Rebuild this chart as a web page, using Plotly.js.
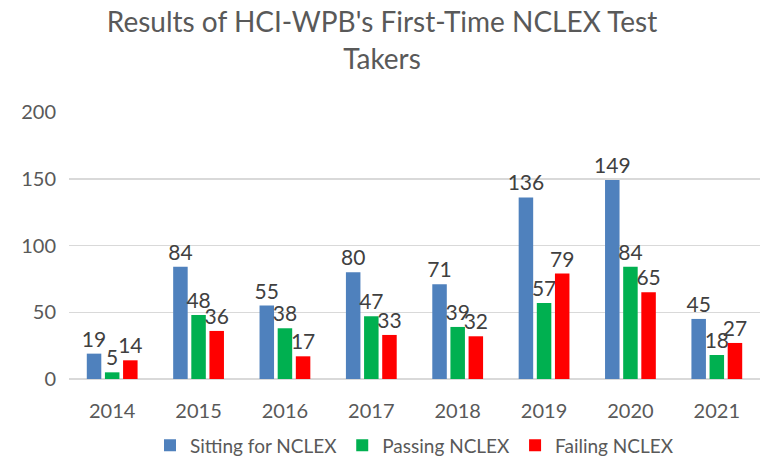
<!DOCTYPE html>
<html>
<head>
<meta charset="utf-8">
<script src="https://cdn.plot.ly/plotly-3.0.1.min.js"></script>
<style>
  html, body { margin: 0; padding: 0; background: #fff; }
  #chart { width: 764px; height: 464px; }
</style>
</head>
<body>
<div id="chart"></div>
<script>
var years = ["2014", "2015", "2016", "2017", "2018", "2019", "2020", "2021"];
var sitting = [19, 84, 55, 80, 71, 136, 149, 45];
var passing = [5, 48, 38, 47, 39, 57, 84, 18];
var failing = [14, 36, 17, 33, 32, 79, 65, 27];

var labelFont = {family: "Lato, sans-serif", size: 21, color: "#404040"};

function makeTrace(name, vals, color) {
  return {
    type: "bar",
    name: name,
    x: years,
    y: vals,
    text: vals.map(String),
    textposition: "outside",
    constraintext: "none",
    cliponaxis: false,
    textfont: labelFont,
    marker: {color: color},
    hoverinfo: "x+y+name"
  };
}

var data = [
  makeTrace("Sitting for NCLEX", sitting, "#4F81BD"),
  makeTrace("Passing NCLEX", passing, "#00B050"),
  makeTrace("Failing NCLEX", failing, "#FF0000")
];

var layout = {
  width: 764,
  height: 464,
  margin: {l: 69, r: 4, t: 112, b: 85},
  paper_bgcolor: "#fff",
  plot_bgcolor: "#fff",
  font: {family: "Lato, sans-serif", color: "#595959"},
  title: {
    text: "Results of HCI-WPB's First-Time NCLEX Test<br>Takers",
    font: {family: "Lato, sans-serif", size: 28, color: "#595959"},
    x: 0.5,
    xanchor: "center",
    y: 0.93,
    yanchor: "top"
  },
  barmode: "group",
  bargap: 0.37,
  bargroupgap: 0.2,
  xaxis: {
    type: "category",
    automargin: false,
    showgrid: false,
    showline: false,
    ticks: "",
    ticklabelstandoff: 18,
    tickfont: {family: "Lato, sans-serif", size: 20, color: "#595959"}
  },
  yaxis: {
    range: [0, 200],
    dtick: 50,
    automargin: false,
    gridcolor: "#d9d9d9",
    gridwidth: 1.5,
    zeroline: true,
    zerolinecolor: "#d9d9d9",
    zerolinewidth: 1.5,
    showline: false,
    ticks: "",
    ticklabelstandoff: 12,
    tickfont: {family: "Lato, sans-serif", size: 20, color: "#595959"}
  },
  showlegend: true,
  legend: {
    orientation: "h",
    x: 0.5,
    xanchor: "center",
    yref: "container",
    y: 0.04,
    yanchor: "middle",
    font: {family: "Lato, sans-serif", size: 19, color: "#595959"},
    itemwidth: 30
  }
};

Plotly.newPlot("chart", data, layout, {displayModeBar: false, staticPlot: true});
</script>
</body>
</html>
